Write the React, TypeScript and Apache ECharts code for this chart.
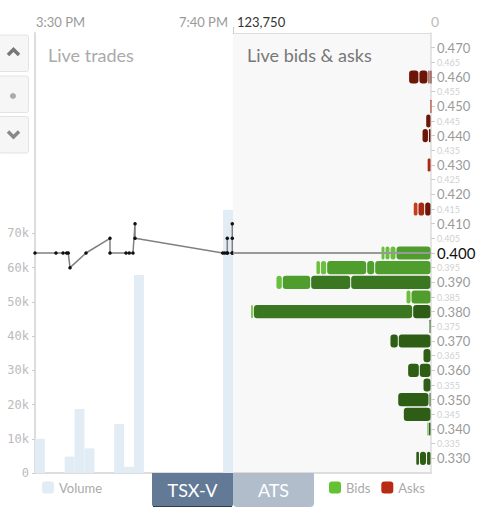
import React, { useEffect, useRef } from 'react';
import * as echarts from 'echarts';

// ---- time axis (minutes after 3:30 PM) ----
const sessionStartMinutes = 15 * 60 + 30;
const sessionSpanMinutes = 250;
const slotMinutes = 12.5;

// ---- volume bars ----
const volumeSlots = [0, 3, 4, 5, 8, 9, 10, 19];
const volumeValues = [10000, 4800, 18700, 7200, 14300, 1800, 57800, 76900];
const volumeTicks = [0, 10000, 20000, 30000, 40000, 50000, 60000, 70000];
const volumeMax = 128500;

// ---- trades ----
const tradeMinutes = [0, 26.5, 35.4, 40, 42, 44.2, 64.4, 94.7, 94.7, 114.9, 119, 123.7, 126.3, 126.3, 237, 239.5, 242.8, 242.8, 242.8, 249.1, 249.1, 249.1, 249.1];
const tradePrices = [0.4, 0.4, 0.4, 0.4, 0.4, 0.395, 0.4, 0.405, 0.4, 0.4, 0.4, 0.4, 0.41, 0.405, 0.4, 0.4, 0.4, 0.405, 0.4, 0.4, 0.41, 0.405, 0.4];

// ---- price axis ----
const priceMin = 0.325;
const priceMax = 0.475;
const priceTicks = [0.33, 0.335, 0.34, 0.345, 0.35, 0.355, 0.36, 0.365, 0.37, 0.375, 0.38, 0.385, 0.39, 0.395, 0.4, 0.405, 0.41, 0.415, 0.42, 0.425, 0.43, 0.435, 0.44, 0.445, 0.45, 0.455, 0.46, 0.465, 0.47];

// ---- order book ----
const bookDepthMax = 123750;
const bidPrices = [0.4, 0.395, 0.39, 0.385, 0.38, 0.375, 0.37, 0.365, 0.36, 0.355, 0.35, 0.345, 0.34, 0.33];
const bidSizes = [
  [21875, 3750, 3125, 2500],
  [35200, 5000, 25000, 3900, 2800],
  [50200, 25000, 17750, 3950],
  [12500, 3125],
  [11450, 99600, 1650],
  [1250],
  [20450, 5200],
  [5000],
  [7300, 7300],
  [5000],
  [1250, 19550],
  [17300],
  [1550, 950],
  [2800, 4400, 2300],
];
const bidShades = [
  [2, 3, 3, 3],
  [2, 2, 2, 3, 3],
  [1, 1, 2, 3],
  [2, 3],
  [0, 1, 3],
  [0],
  [0, 0],
  [0],
  [0, 0],
  [0],
  [0, 0],
  [0],
  [0, 2],
  [0, 0, 0],
];
const askPrices = [0.46, 0.45, 0.445, 0.44, 0.43, 0.415];
const askSizes = [[650, 1250, 5650, 6450], [650], [3300], [1600, 4000], [2400], [3950, 4200, 2950]];
const askShades = [[0, 0, 0, 0], [1], [0], [0, 0], [1], [0, 1, 2]];

const bidPalette = ['#2e5e16', '#3b7620', '#4f9d2c', '#6abf3c'];
const askPalette = ['#6d1607', '#a62b13', '#c33e1f'];

const lastPrice = tradePrices[tradePrices.length - 1];

function clock(m: number): string {
  const total = sessionStartMinutes + m;
  let h = Math.floor(total / 60);
  const mm = Math.round(total % 60);
  const suffix = h >= 12 ? 'PM' : 'AM';
  h = h % 12 || 12;
  return `${h}:${String(mm).padStart(2, '0')} ${suffix}`;
}

function buildSegments(prices: number[], sizes: number[][], shades: number[][]) {
  const out: number[][] = [];
  prices.forEach((p, i) => {
    let acc = 0;
    sizes[i].forEach((s, j) => {
      out.push([p, acc, acc + s, shades[i][j]]);
      acc += s;
    });
  });
  return out;
}

function makeRender(palette: string[]) {
  return (params: any, api: any) => {
    const price = api.value(0);
    const a = api.value(1);
    const b = api.value(2);
    const shade = api.value(3);
    const p1 = api.coord([a, price]);
    const p2 = api.coord([b, price]);
    const band = api.size([0, 0.005])[1];
    const bh = band - 1.5;
    const x = Math.min(p1[0], p2[0]);
    const w = Math.max(Math.abs(p2[0] - p1[0]) - 1, 1);
    return {
      type: 'rect',
      shape: { x: x + 0.5, y: p1[1] - bh / 2, width: w, height: bh, r: Math.min(3, w / 2) },
      style: { fill: palette[shade] },
    };
  };
}

export default function App() {
  const ref = useRef<HTMLDivElement>(null);
  useEffect(() => {
    if (!ref.current) return;
    const chart = echarts.init(ref.current, undefined, { renderer: 'svg' });
    const font = 'Lato';
    const lineColor = '#dddddd';

    const option: any = {
      animation: false,
      textStyle: { fontFamily: font },
      grid: [
        { left: 35, top: 33, width: 198, height: 440 },
        { left: 233, top: 33, width: 198, height: 440, show: true, backgroundColor: '#f8f8f8', borderWidth: 0 },
      ],
      xAxis: [
        {
          type: 'value', gridIndex: 0, position: 'top', min: 0, max: sessionSpanMinutes,
          axisLine: { show: true, lineStyle: { color: lineColor, width: 1 } },
          axisTick: { show: false }, splitLine: { show: false },
          axisLabel: {
            customValues: [0, sessionSpanMinutes], margin: 5, fontFamily: font, fontSize: 13, color: '#9a9a9a',
            alignMinLabel: 'left', alignMaxLabel: 'right',
            formatter: (v: number) => (v === 0 ? `{l|${clock(v)}}` : `{r|${clock(v)}}`),
            rich: { l: { fontSize: 13, color: '#9a9a9a', padding: [0, 0, 0, 1] }, r: { fontSize: 13, color: '#9a9a9a', padding: [0, 5, 0, 0] } },
          },
        },
        {
          type: 'value', gridIndex: 1, position: 'top', min: 0, max: bookDepthMax, inverse: true,
          axisLine: { show: true, lineStyle: { color: lineColor, width: 1 } },
          axisTick: { show: true, customValues: [bookDepthMax], length: 6, lineStyle: { color: '#cccccc' } },
          splitLine: { show: false },
          axisLabel: {
            customValues: [0, bookDepthMax], margin: 5, align: 'left', fontFamily: font,
            formatter: (v: number) => (v === 0 ? '{z|0}' : `{m|${v.toLocaleString('en-US')}}`),
            rich: { m: { fontSize: 13, color: '#333333', padding: [0, 0, 0, 4] }, z: { fontSize: 14, color: '#bbbbbb' } },
          },
        },
        {
          type: 'value', gridIndex: 0, position: 'bottom', min: 0, max: 1,
          axisLine: { show: true, lineStyle: { color: lineColor, width: 2 } },
          axisTick: { show: false }, axisLabel: { show: false }, splitLine: { show: false },
        },
        {
          type: 'value', gridIndex: 1, position: 'bottom', min: 0, max: 1,
          axisLine: { show: true, lineStyle: { color: lineColor, width: 2 } },
          axisTick: { show: false }, axisLabel: { show: false }, splitLine: { show: false },
        },
      ],
      yAxis: [
        {
          type: 'value', gridIndex: 0, position: 'left', min: 0, max: volumeMax,
          axisLine: { show: true, lineStyle: { color: lineColor, width: 2 } },
          axisTick: { show: true, customValues: volumeTicks, length: 3, lineStyle: { color: '#cccccc' } },
          splitLine: { show: false },
          axisLabel: {
            customValues: volumeTicks, margin: 6, fontFamily: 'DejaVu Sans Mono', fontSize: 12, color: '#bbbbbb',
            formatter: (v: number) => (v === 0 ? '0' : `${v / 1000}k`),
          },
        },
        { type: 'value', gridIndex: 0, min: priceMin, max: priceMax, show: false },
        {
          type: 'value', gridIndex: 1, position: 'right', min: priceMin, max: priceMax,
          axisLine: { show: true, lineStyle: { color: lineColor, width: 1.5 } },
          axisTick: { show: true, customValues: priceTicks, length: 4, lineStyle: { color: '#cccccc' } },
          splitLine: { show: false },
          axisLabel: {
            customValues: priceTicks, margin: 6, align: 'left', fontFamily: font,
            formatter: (v: number) => {
              const s = v.toFixed(3);
              if (Math.abs(v - lastPrice) < 1e-6) return `{cur|${s}}`;
              return Math.round(v * 1000) % 10 === 0 ? `{maj|${s}}` : `{min|${s}}`;
            },
            rich: {
              maj: { fontSize: 13, color: '#9a9a9a' },
              min: { fontSize: 9, color: '#d0d0d0' },
              cur: { fontSize: 15, color: '#111111' },
            },
          },
        },
      ],
      legend: [
        {
          data: ['Volume'], left: 42, top: 481, padding: 0, itemWidth: 12, itemHeight: 12, icon: 'roundRect',
          textStyle: { color: '#aaaaaa', fontSize: 13, fontFamily: font }, selectedMode: false,
        },
        {
          data: ['Bids', 'Asks'], left: 329, top: 481, padding: 0, itemWidth: 12, itemHeight: 12, itemGap: 11, icon: 'roundRect',
          textStyle: { color: '#aaaaaa', fontSize: 13, fontFamily: font }, selectedMode: false,
        },
      ],
      series: [
        {
          name: 'Volume', type: 'bar', xAxisIndex: 0, yAxisIndex: 0, barWidth: 9.9, z: 1,
          itemStyle: { color: '#e2ecf4' },
          data: volumeSlots.map((s, i) => [(s + 0.5) * slotMinutes, volumeValues[i]]),
        },
        {
          name: 'Trades', type: 'line', xAxisIndex: 0, yAxisIndex: 1, z: 4,
          symbol: 'circle', symbolSize: 3.5, showSymbol: true,
          itemStyle: { color: '#111111' },
          lineStyle: { color: '#808080', width: 1.5 },
          data: tradeMinutes.map((m, i) => [m, tradePrices[i]]),
        },
        {
          name: 'Bids', type: 'custom', xAxisIndex: 1, yAxisIndex: 2, z: 2,
          itemStyle: { color: '#63c132' },
          encode: { x: [1, 2], y: 0 },
          renderItem: makeRender(bidPalette),
          data: buildSegments(bidPrices, bidSizes, bidShades),
        },
        {
          name: 'Asks', type: 'custom', xAxisIndex: 1, yAxisIndex: 2, z: 2,
          itemStyle: { color: '#b82a14' },
          encode: { x: [1, 2], y: 0 },
          renderItem: makeRender(askPalette),
          data: buildSegments(askPrices, askSizes, askShades),
        },
        {
          name: 'Last', type: 'line', xAxisIndex: 1, yAxisIndex: 2, z: 5, symbol: 'none', silent: true,
          lineStyle: { color: '#999999', width: 2 },
          data: [[0, lastPrice], [bookDepthMax, lastPrice]],
        },
      ],
      graphic: [
        { type: 'text', x: 48, y: 55, style: { text: 'Live trades', fontSize: 18, fill: '#aaaaaa', fontFamily: font, verticalAlign: 'middle' } },
        { type: 'text', x: 247, y: 55, style: { text: 'Live bids & asks', fontSize: 18, fill: '#777777', fontFamily: font, verticalAlign: 'middle' } },
        // left navigation buttons
        { type: 'rect', shape: { x: -1, y: 35, width: 29.5, height: 36.5, r: 2 }, style: { fill: '#f6f6f6', stroke: '#e3e3e3', lineWidth: 1 } },
        { type: 'rect', shape: { x: -1, y: 76, width: 29.5, height: 36.5, r: 2 }, style: { fill: '#f6f6f6', stroke: '#e3e3e3', lineWidth: 1 } },
        { type: 'rect', shape: { x: -1, y: 116.5, width: 29.5, height: 36.5, r: 2 }, style: { fill: '#f6f6f6', stroke: '#e3e3e3', lineWidth: 1 } },
        { type: 'polyline', shape: { points: [[8, 55], [13.5, 49.5], [19, 55]] }, style: { stroke: '#777777', lineWidth: 3.5, fill: 'none' } },
        { type: 'circle', shape: { cx: 13, cy: 96, r: 3 }, style: { fill: '#aaaaaa' } },
        { type: 'polyline', shape: { points: [[8, 131.5], [13.5, 137], [19, 131.5]] }, style: { stroke: '#888888', lineWidth: 3.5, fill: 'none' } },
        // exchange buttons
        { type: 'rect', z: 50, shape: { x: 152, y: 473, width: 81, height: 34, r: [0, 0, 3, 3] }, style: { fill: '#627a95' } },
        { type: 'line', z: 51, shape: { x1: 153, y1: 506.5, x2: 232, y2: 506.5 }, style: { stroke: '#2f3f52', lineWidth: 1 } },
        { type: 'text', z: 52, x: 192.5, y: 490, style: { text: 'TSX-V', fontSize: 18, fill: '#ffffff', fontFamily: font, align: 'center', verticalAlign: 'middle' } },
        { type: 'rect', z: 50, shape: { x: 233, y: 473, width: 81, height: 34, r: [0, 0, 4, 4] }, style: { fill: '#b1bdcb' } },
        { type: 'text', z: 52, x: 273.5, y: 490, style: { text: 'ATS', fontSize: 18, fill: '#ffffff', fontFamily: font, align: 'center', verticalAlign: 'middle' } },
      ],
    };
    chart.setOption(option);
    return () => chart.dispose();
  }, []);
  return <div ref={ref} style={{ position: 'absolute', left: 0, top: 0, width: 490, height: 529 }} />;
}
